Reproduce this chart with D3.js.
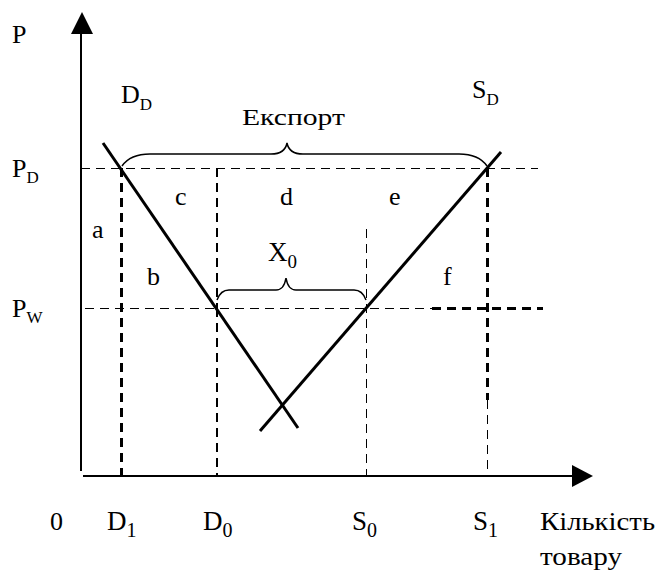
<!DOCTYPE html>
<html>
<head>
<meta charset="utf-8">
<script src="https://cdn.jsdelivr.net/npm/d3@7"></script>
<style>
body{margin:0;background:#fff}
text{font-family:"Liberation Serif","Times New Roman",serif;fill:#000}
</style>
</head>
<body>
<div id="wrapper"></div>
<script>
// quantities on the x axis
const qNames = ["D", "D", "S", "S"];
const qSubs = ["1", "0", "0", "1"];
const qValues = [8, 27.2, 57, 81.2];
// price levels
const pNames = ["P", "P"];
const pSubs = ["D", "W"];
const pValues = [77, 42];
// demand and supply curves, end points as (quantity, price)
const demandQ = [4.4, 43.4];
const demandP = [83.25, 12];
const supplyQ = [35.8, 84];
const supplyP = [11.25, 81];
// area letters
const areaLetters = ["a", "b", "c", "d", "e", "f"];
const areaQ = [2.2, 13.2, 18.8, 39.8, 61.6, 72.4];
const areaP = [59.5, 47.75, 67.75, 67.75, 67.75, 47.75];
// curve names
const curveNames = ["D", "S"];
const curveSubs = ["D", "D"];
const curveQ = [8, 78.2];
const curveP = [93.25, 94.5];
// braces
const exportText = "Експорт";
const exportTipQ = 41.2;
const x0TipQ = 41;

const dimension = {width: 659, height: 572};
const originX = 81, originY = 476;

const xScale = d3.scaleLinear().domain([0, 100]).range([originX, originX + 500]);
const yScale = d3.scaleLinear().domain([0, 100]).range([originY, originY - 400]);

const svg = d3.select("#wrapper").append("svg")
  .attr("width", dimension.width).attr("height", dimension.height)
  .attr("font-family", "'Liberation Serif', 'Times New Roman', serif");

// axes
svg.append("line").attr("x1", originX).attr("y1", originY - 5).attr("x2", originX).attr("y2", 30)
  .attr("stroke", "#000").attr("stroke-width", 2);
svg.append("path").attr("d", `M${originX + 1},12 L${originX - 10},34 L${originX + 12},34 Z`).attr("fill", "#000");
svg.append("line").attr("x1", originX + 2).attr("y1", originY).attr("x2", 575).attr("y2", originY)
  .attr("stroke", "#000").attr("stroke-width", 2);
svg.append("path").attr("d", `M593,${originY} L572,${originY - 11} L572,${originY + 11} Z`).attr("fill", "#000");

// guide lines
const guides = svg.append("g").attr("stroke", "#000").attr("fill", "none")
  .attr("shape-rendering", "crispEdges");
const thin = g => g.attr("stroke-width", 1).attr("stroke-dasharray", "9,6");
const thick = g => g.attr("stroke-width", 3).attr("stroke-dasharray", "9,6");

// P_D level
guides.append("line").call(thin)
  .attr("x1", xScale(0)).attr("x2", xScale(91.4))
  .attr("y1", yScale(pValues[0])).attr("y2", yScale(pValues[0]));
// P_W level, thin then thick
guides.append("line").call(thin)
  .attr("x1", xScale(0) + 4).attr("x2", xScale(70.2))
  .attr("y1", yScale(pValues[1])).attr("y2", yScale(pValues[1]));
guides.append("line").call(thick)
  .attr("x1", xScale(70.2)).attr("x2", xScale(92.4))
  .attr("y1", yScale(pValues[1])).attr("y2", yScale(pValues[1]));
// D1
guides.append("line").call(thick)
  .attr("x1", xScale(qValues[0])).attr("x2", xScale(qValues[0]))
  .attr("y1", yScale(pValues[0])).attr("y2", yScale(0));
// D0
guides.append("line").call(thin).attr("stroke-width", 2)
  .attr("x1", xScale(qValues[1])).attr("x2", xScale(qValues[1]))
  .attr("y1", yScale(pValues[0])).attr("y2", yScale(pValues[1]));
guides.append("line").call(thin).attr("stroke-width", 2)
  .attr("x1", xScale(qValues[1])).attr("x2", xScale(qValues[1]))
  .attr("y1", yScale(pValues[1])).attr("y2", yScale(0));
// S0
guides.append("line").call(thin)
  .attr("x1", xScale(qValues[2])).attr("x2", xScale(qValues[2]))
  .attr("y1", yScale(61.75)).attr("y2", yScale(0));
// S1, thick then thin
guides.append("line").call(thick)
  .attr("x1", xScale(qValues[3])).attr("x2", xScale(qValues[3]))
  .attr("y1", yScale(pValues[0])).attr("y2", yScale(19));
guides.append("line").call(thin)
  .attr("x1", xScale(qValues[3])).attr("x2", xScale(qValues[3]))
  .attr("y1", yScale(19)).attr("y2", yScale(0));

// demand and supply
const line = d3.line().x(d => xScale(d[0])).y(d => yScale(d[1]));
svg.append("path").datum(d3.zip(demandQ, demandP)).attr("d", line)
  .attr("stroke", "#000").attr("stroke-width", 3).attr("fill", "none");
svg.append("path").datum(d3.zip(supplyQ, supplyP)).attr("d", line)
  .attr("stroke", "#000").attr("stroke-width", 3).attr("fill", "none");

// braces
function brace(x1, x2, tip, yb, h, c, t, th) {
  const y = yb - h;
  return `M${x1},${yb} Q${x1 + c * 0.3},${y} ${x1 + c},${y} L${tip - t},${y} ` +
    `Q${tip - 2},${y} ${tip},${y - th} Q${tip + 2},${y} ${tip + t},${y} ` +
    `L${x2 - c},${y} Q${x2 - c * 0.3},${y} ${x2},${yb}`;
}
svg.append("path")
  .attr("d", brace(xScale(qValues[0]) + 1, xScale(qValues[3]), xScale(exportTipQ), yScale(pValues[0]) - 2, 12, 28, 16, 11))
  .attr("stroke", "#000").attr("stroke-width", 1.5).attr("fill", "none");
svg.append("path")
  .attr("d", brace(xScale(qValues[1]), xScale(qValues[2]), xScale(x0TipQ), yScale(pValues[1]) - 8, 10, 12, 10, 12))
  .attr("stroke", "#000").attr("stroke-width", 1.5).attr("fill", "none");

// text helper
function subLabel(x, y, main, sub, size, subSize, dy, anchor) {
  const t = svg.append("text").attr("x", x).attr("y", y).attr("font-size", size)
    .attr("text-anchor", anchor || "start");
  t.append("tspan").text(main);
  t.append("tspan").attr("dy", dy).attr("font-size", subSize).text(sub);
  return t;
}

// axis titles
svg.append("text").attr("x", 12).attr("y", 43).attr("font-size", 26).text("P");
svg.append("text").attr("x", 50).attr("y", 530).attr("font-size", 26).text("0");
svg.append("text").attr("x", 540).attr("y", 530).attr("font-size", 26)
  .attr("textLength", 115).attr("lengthAdjust", "spacingAndGlyphs").text("Кількість");
svg.append("text").attr("x", 540).attr("y", 565).attr("font-size", 26)
  .attr("textLength", 82).attr("lengthAdjust", "spacingAndGlyphs").text("товару");

// price labels
pValues.forEach((v, i) => subLabel(12, yScale(v) + 9, pNames[i], pSubs[i], 26, 17, 6));
// quantity labels
qValues.forEach((v, i) => subLabel(xScale(v) - 14, 530, qNames[i], qSubs[i], 27, 20, 7));
// curve labels
curveQ.forEach((v, i) => subLabel(xScale(v), yScale(curveP[i]), curveNames[i], curveSubs[i], 26, 17, 7));
// export label
svg.append("text").attr("x", xScale(32.2)).attr("y", yScale(87.75)).attr("font-size", 24)
  .attr("textLength", 103).attr("lengthAdjust", "spacingAndGlyphs").text(exportText);
// X0
subLabel(xScale(37.4), yScale(53.75), "X", "0", 27, 19, 7);
// area letters
areaLetters.forEach((l, i) => svg.append("text").attr("x", xScale(areaQ[i])).attr("y", yScale(areaP[i]))
  .attr("font-size", 26).text(l));
</script>
</body>
</html>
